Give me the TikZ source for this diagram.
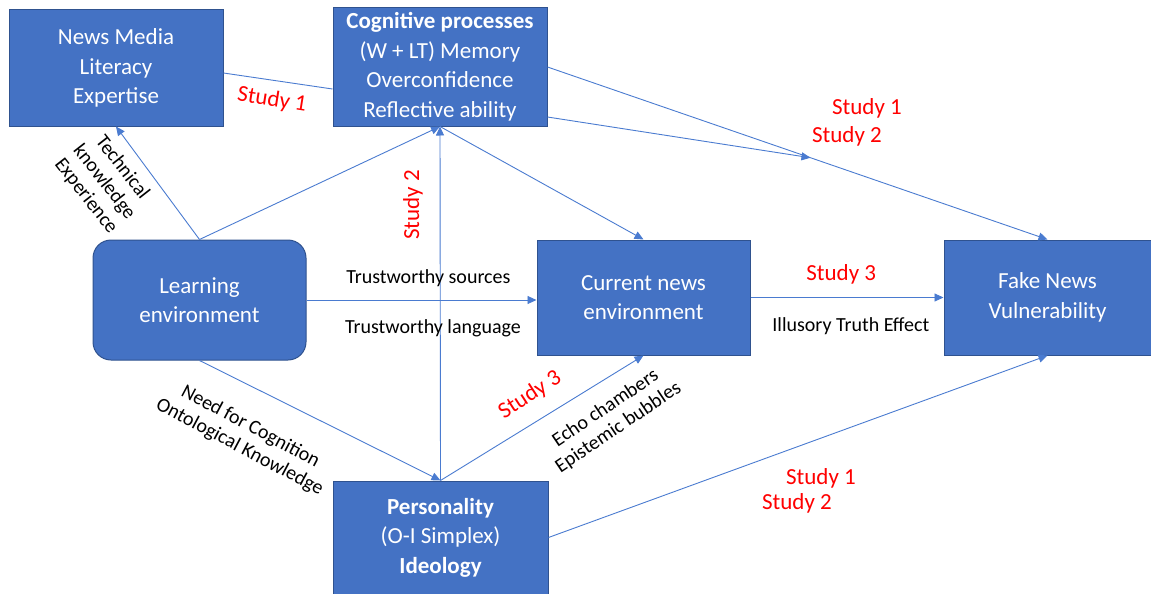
\documentclass[tikz,border=0pt]{standalone}
\usepackage{fontspec}
\setmainfont{Carlito}
\usetikzlibrary{arrows.meta}
\definecolor{boxblue}{HTML}{4472C4}
\definecolor{boxedge}{HTML}{2F528F}
\definecolor{linkblue}{HTML}{4A7BD0}
\definecolor{studyred}{HTML}{FF0000}
\tikzset{
  link/.style={draw=linkblue, -{Triangle[length=9pt,width=8pt]}, line width=0.9pt},
  plainlink/.style={draw=linkblue, line width=0.9pt},
  box/.style={
    draw=boxedge,
    fill=boxblue,
    text=white,
    line width=1pt,
    align=center,
    inner sep=0pt,
    font=\fontsize{23}{29.5}\selectfont
  },
  note/.style={align=center, font=\fontsize{20}{23}\selectfont},
  study/.style={text=studyred, align=center, font=\fontsize{23}{27}\selectfont}
}

\begin{document}
\begin{tikzpicture}[x=1pt,y=-1pt]
  \path[use as bounding box] (0,0) rectangle (1151,594);

  \node[box, minimum width=214pt, minimum height=116pt] (media) at (116,68)
    {News Media\\Literacy\\Expertise};
  \node[box, minimum width=214pt, minimum height=118pt] (cog) at (440,67)
    {\textbf{Cognitive processes}\\(W + LT) Memory\\Overconfidence\\Reflective ability};
  \node[box, rounded corners=18pt, minimum width=213pt, minimum height=120pt] (learn) at (199.5,300)
    {Learning\\environment};
  \node[box, minimum width=213pt, minimum height=115pt] (news) at (643.5,297.5)
    {Current news\\environment};
  \node[box, minimum width=207pt, minimum height=115pt] (fake) at (1047.5,297.5)
    {Fake News\\Vulnerability};
  \node[box, minimum width=215pt, minimum height=113pt] (pers) at (440.5,537.5)
    {\textbf{Personality}\\(O-I Simplex)\\\textbf{Ideology}};

  \draw[plainlink] ([yshift=-5pt]media.east) -- ([yshift=-22pt]cog.west);
  \draw[link] (learn.north) -- (media.south);
  \draw[link] (learn.north) -- (cog.south);
  \draw[link] (pers.north) -- (cog.south);
  \draw[link] (cog.south) -- (news.north);
  \draw[link] (learn.south) -- (pers.north);
  \draw[link] (pers.north) -- (news.south);
  \draw[link] (learn.east) -- node[pos=0.53, above=9pt, note] (src) {Trustworthy sources}
    node[pos=0.55, below=16pt, note] (lang) {Trustworthy language} (learn.east -| news.west);
  \draw[link] (news.east) -- node[pos=0.47, above=10pt, study] (s3b) {Study 3}
    node[pos=0.52, below=16pt, note] (ite) {Illusory Truth Effect} (news.east -| fake.west);
  \draw[link] (cog.east) -- coordinate[pos=0.526] (mod) (fake.north);
  \draw[link] ([yshift=-50pt]cog.east) -- (mod);
  \draw[link] (pers.east) -- (fake.south);

  \node[study, rotate=-9] (s1a) at (272,100) {Study 1};
  \node[study] (s1b) at (867,108) {Study 1};
  \node[study] (s2b) at (847,136) {Study 2};
  \node[study, rotate=90] (s2a) at (413,205) {Study 2};
  \node[study, rotate=33] (s3a) at (530,395) {Study 3};
  \node[study] (s1c) at (821,478) {Study 1};
  \node[study] (s2c) at (797,503) {Study 2};

  \node[note, rotate=-52] (tech) at (104,182) {Technical\\knowledge\\Experience};
  \node[note, rotate=-28] (need) at (245,437) {Need for Cognition\\Ontological Knowledge};
  \node[note, rotate=34] (echo) at (612,418) {Echo chambers\\Epistemic bubbles};
\end{tikzpicture}
\end{document}
